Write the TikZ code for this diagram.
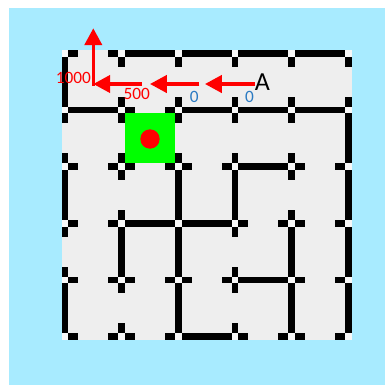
\documentclass[tikz,border=0pt]{standalone}
\usepackage{fontspec}
\setmainfont{Carlito}
\usepackage{xcolor}
\usetikzlibrary{arrows.meta}

\definecolor{skyback}{HTML}{A8EBFF}
\definecolor{floorgrey}{HTML}{EEEEEE}
\definecolor{postgrey}{HTML}{F8F8F8}
\definecolor{valblue}{HTML}{2A7AC2}

\begin{document}
\begin{tikzpicture}[x=0.25mm,y=-0.25mm,
  wall/.style={line width=1.65mm},
  post/.style={fill=postgrey,inner sep=0,minimum size=1.6mm},
  push/.style={red,line width=0.85mm,-{Triangle[length=4.2mm,width=4.3mm]}},
  redval/.style={text=red,inner sep=0,font=\fontsize{12.3}{14}\selectfont},
  blueval/.style={text=valblue,inner sep=0,font=\fontsize{12.3}{14}\selectfont}]
  \useasboundingbox (0,0) rectangle (385,385);
  \fill[skyback] (9,8) rectangle (385,385);
  \fill[floorgrey] (61.7,50) rectangle (351.7,340);
  % goal cell
  \fill[green] (125,113.3) rectangle (175,163.3);
  \fill[red] (150,139) circle (9.7);
  % maze posts
  \foreach \i in {0,...,5}
    \foreach \j in {0,...,5}
      \coordinate (p\i\j) at ({65+56.67*\i},{53.33+56.67*\j});
  \foreach \i [count=\k] in {0,...,4}
    \foreach \j in {0,...,5} {
      \draw[wall] (p\i\j) -- ++(13.3,0);
      \draw[wall] (p\k\j) -- ++(-13.3,0);
      \draw[wall] (p\j\i) -- ++(0,13.3);
      \draw[wall] (p\j\k) -- ++(0,-13.3);
    }
  % walls
  \draw[wall] (p10) -- (p50);
  \draw[wall] (p01) -- (p11);
  \draw[wall] (p21) -- (p51);
  \draw[wall] (p32) -- (p42);
  \draw[wall] (p13) -- (p33);
  \draw[wall] (p34) -- (p44);
  \draw[wall] (p25) -- (p35);
  \draw[wall] (p00) -- (p01);
  \draw[wall] (p02) -- (p03);
  \draw[wall] (p04) -- (p05);
  \draw[wall] (p13) -- (p14);
  \draw[wall] (p22) -- (p25);
  \draw[wall] (p32) -- (p33);
  \draw[wall] (p43) -- (p45);
  \draw[wall] (p51) -- (p55);
  \foreach \i in {0,...,5}
    \foreach \j in {0,...,5}
      \node[post] (q\i\j) at (p\i\j) {};
  % path values
  \node[inner sep=0,font=\fontsize{18.5}{20}\selectfont] (a) at (262.5,82) {A};
  \coordinate (h1) at (205,84);
  \coordinate (s2) at (199.3,84);
  \coordinate (h2) at (150,84);
  \coordinate (s3) at (141.7,84);
  \coordinate (h3) at (93.3,84);
  \coordinate (s4) at (93.3,85.7);
  \coordinate (h4) at (93.3,28.3);
  \draw[push] (a.west |- h1) -- (h1);
  \draw[push] (s2) -- (h2);
  \draw[push] (s3) -- (h3);
  \draw[push] (s4) -- (h4);
  \node[blueval] (v1) at (249.5,97.2) {0};
  \node[blueval] (v2) at (194.2,97.2) {0};
  \node[redval] (v3) at (136.8,94.2) {500};
  \node[redval] (v4) at (73.3,77.5) {1000};
\end{tikzpicture}
\end{document}
